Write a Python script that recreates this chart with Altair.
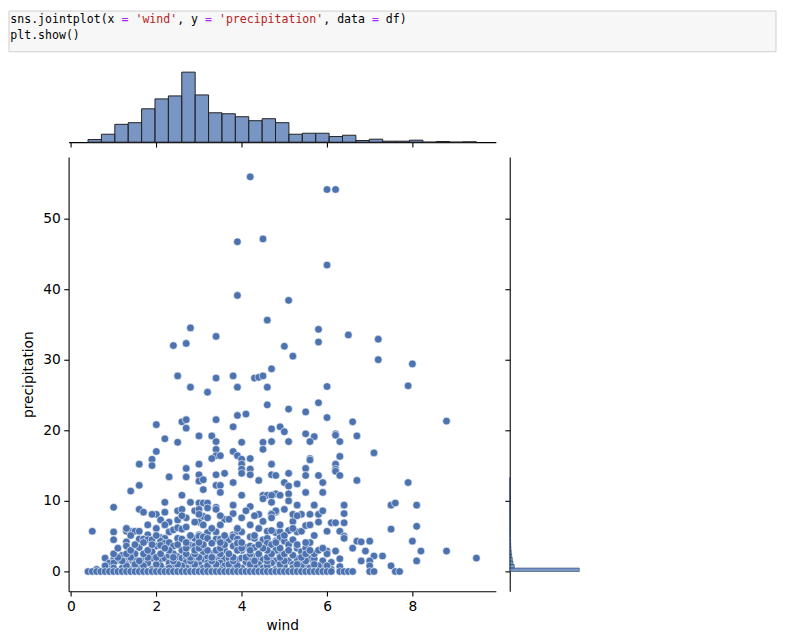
import altair as alt
import pandas as pd

# ---------------- code cell text ----------------
code_text = ["sns.jointplot(x", "=", "'wind'", ", y", "=", "'precipitation'", ", data", "=", "df)", "plt.show()"]
code_col = [0, 16, 18, 24, 28, 30, 45, 52, 54, 0]
code_line = [1, 1, 1, 1, 1, 1, 1, 1, 1, 2]
code_kind = ["code", "op", "str", "code", "op", "str", "code", "op", "code", "code"]

# ---------------- scatter data (wind, precipitation) ----------------
pts_high = [(4.2,55.9),(3.9,46.7),(4.5,47.1),(6.0,54.1),(6.2,54.1),(6.0,43.4),(3.9,39.1),(5.1,38.4),(4.6,35.6),(2.8,34.5),
            (3.4,33.3),(2.7,32.3),(2.4,32.0),(5.8,34.3),(6.5,33.5),(7.2,32.9),(5.0,31.9),(5.8,32.5),(5.2,30.5),(7.2,30.0),
            (8.0,29.4),(4.7,28.7),(2.5,27.7),(3.4,27.4),(3.8,27.7),(4.3,27.4),(4.4,27.5),(4.5,27.7),(2.8,26.1),(3.9,26.1),
            (4.6,26.1),(6.0,26.2),(7.9,26.3),(3.2,25.4),(4.6,23.6),(5.8,23.9),(5.1,23.0),(5.5,22.6),(4.1,22.3),(3.9,22.1),
            (6.0,21.8),(6.6,21.2),(8.8,21.3),(2.0,20.8),(2.6,21.2),(2.7,21.5),(3.4,21.5),(2.7,20.3),(3.8,20.5),(4.7,20.2),
            (4.9,20.5),(5.0,19.8),(5.5,19.5),(5.7,19.1),(6.2,19.5),(6.2,19.3),(6.7,19.2),(2.2,18.8),(3.0,19.2),(3.3,19.2),
            (2.5,18.3),(3.4,18.4),(4.0,18.3),(4.5,18.3),(4.7,18.4),(5.1,18.4),(5.6,18.4),(6.3,18.4),(2.0,17.0),(3.4,17.3),
            (4.5,17.3),(3.8,17.0),(7.1,16.8),(3.9,16.4),(3.4,16.4),(3.5,16.4),(3.3,16.0),(4.0,15.9),(4.2,16.0),(1.9,15.9),
            (5.6,16.0),(6.3,16.3),(5.6,15.8),(1.6,15.2),(1.9,15.0),(3.0,15.2),(4.0,15.2),(4.7,15.2),(6.2,15.2),(2.7,14.6),
            (4.2,14.5),(5.5,14.6),(6.2,14.5),(4.0,14.5),(6.2,14.2)]

pts_mid = [(3.4,13.7),(3.6,13.9),(3.0,13.7),(2.7,13.4),(2.3,13.4),(4.0,13.9),(4.2,13.7),(4.7,13.7),(4.8,13.6),(6.3,13.6),
           (5.5,13.6),(5.1,13.9),(5.8,13.6),(3.0,12.8),(3.1,13.0),(1.6,12.2),(3.4,12.2),(3.5,12.2),(3.8,12.6),(4.4,12.9),
           (6.7,12.9),(7.9,12.6),(5.9,12.6),(5.3,12.4),(5.0,12.6),(5.1,12.1),(3.1,11.6),(3.5,11.2),(1.4,11.4),(5.5,11.2),
           (5.9,11.2),(4.8,11.0),(4.9,10.8),(5.1,11.0),(4.0,10.8),(4.5,10.8),(4.6,10.8),(4.7,10.8),(2.6,10.8),(4.5,10.3),
           (5.1,10.0),(2.2,9.8),(2.8,9.8),(3.0,9.7),(3.1,9.7),(3.2,9.7),(3.8,9.4),(4.2,9.2),(1.0,9.1),(3.4,9.1),
           (4.7,9.8),(5.3,9.4),(5.7,9.4),(6.4,9.4),(7.5,9.4),(7.6,9.7),(8.1,9.4),(1.6,8.8),(1.7,8.4),(2.2,8.4),
           (2.5,8.6),(2.6,8.8),(2.9,8.6),(3.0,8.8),(3.2,9.0),(3.4,8.8),(3.8,8.2),(4.1,8.6),(4.7,8.2),(4.8,8.4),
           (2.0,8.1),(6.4,8.2),(5.4,8.1),(5.6,8.1),(5.8,8.1),(5.9,8.6),(5.0,8.8),(4.8,8.6),(4.7,8.1),(2.1,7.3),
           (2.3,7.0),(2.5,7.3),(2.7,7.6),(3.0,7.0),(3.1,7.8),(3.2,7.6),(3.6,7.4),(3.7,7.4),(4.0,7.6),(4.5,7.1),
           (4.7,7.6),(1.8,6.6),(2.9,7.0),(5.8,7.0),(6.1,6.9),(6.2,6.9),(6.4,6.9),(0.5,5.7),(1.0,5.6),(1.3,5.7),
           (1.4,5.7),(1.5,5.7),(1.6,5.7),(2.3,5.6),(2.4,5.9),(2.5,6.2),(2.6,6.0),(2.7,6.3),(3.0,5.2),(3.2,5.5),
           (3.4,5.6),(3.8,5.2),(3.9,5.7),(4.0,5.6),(4.6,5.7),(4.8,5.5),(1.8,5.2),(6.0,5.7),(6.3,5.7),(7.5,6.0),
           (8.1,6.4),(4.7,5.8),(4.9,5.6),(5.1,5.8),(5.3,5.6),(5.4,5.7),(6.4,5.0),(4.9,6.6),(5.2,7.1),(5.5,6.5),
           (1.9,8.1),(3.0,8.1),(4.4,8.1),(5.2,8.1),(2.6,7.9),(3.5,7.9),(4.3,7.9),(5.3,7.9),(2.2,6.6),(3.1,6.6),
           (3.5,6.6),(4.2,6.6),(5.6,6.6),(1.3,6.1),(2.0,6.1),(3.3,6.1),(3.9,6.1),(4.4,6.1),(5.2,6.1)]

pts_low = [(2.1,4.8),(2.2,4.7),(1.0,4.5),(1.6,4.6),(1.7,4.6),(1.8,4.5),(1.9,4.5),(2.1,4.3),(2.2,4.0),(2.3,4.1),
           (2.5,4.7),(2.6,4.6),(2.8,4.9),(2.9,4.7),(3.0,5.0),(3.1,4.9),(3.2,4.7),(3.4,4.6),(3.5,4.6),(3.6,4.4),
           (3.7,4.5),(3.8,4.9),(3.9,4.6),(4.2,4.9),(4.3,4.7),(4.5,4.5),(4.6,4.7),(4.8,4.3),(1.3,4.2),(1.3,3.6),
           (1.6,3.4),(2.0,3.6),(2.1,3.7),(2.4,3.6),(2.8,3.7),(2.9,3.6),(3.3,4.0),(3.8,3.6),(3.9,4.0),(4.1,3.4),
           (4.2,3.6),(4.3,3.4),(4.6,4.0),(4.7,3.8),(6.4,4.7),(6.7,4.3),(6.8,4.2),(7.0,4.3),(6.6,3.3),(6.9,2.9),
           (6.0,2.9),(6.2,2.9),(8.0,4.3),(8.2,2.9),(8.8,2.9),(9.5,1.9),(8.1,1.5),(7.1,2.2),(7.3,2.2),(6.8,1.5),
           (7.0,1.5),(6.3,1.8),(6.1,1.3),(5.9,1.5),(5.6,1.8),(5.7,1.8),(7.5,0.8),(7.0,0.8),(6.3,0.7),(4.9,4.8),
           (5.0,4.3),(5.1,3.8),(5.2,4.5),(5.3,3.3),(5.4,2.8),(5.5,3.3),(5.6,4.1),(5.7,2.5),(5.8,3.0),(5.0,2.0),
           (5.1,1.5),(5.2,1.0),(5.3,1.8),(5.4,1.3),(4.9,2.5),(4.8,3.0),(5.5,0.8),(5.9,0.5),(5.2,2.3),(0.8,1.9),
           (1.0,1.7),(1.1,1.6),(1.3,1.8),(1.4,1.6),(1.5,1.7),(1.7,1.7),(1.8,1.6),(1.9,1.9),(2.1,1.7),(2.2,1.9),
           (2.3,2.3),(2.5,2.1),(2.6,1.9),(2.7,2.1),(2.9,1.8),(3.0,1.6),(3.1,1.7),(3.2,2.1),(3.4,1.8),(3.5,2.1),
           (3.6,1.8),(3.7,1.9),(3.9,1.6),(4.0,1.9),(4.1,1.5),(4.2,1.8),(4.3,2.1),(4.4,1.9),(4.5,1.7),(4.7,1.8),
           (4.8,1.5),(0.9,1.2),(1.0,1.2),(1.3,1.0),(1.6,1.2),(1.8,1.2),(2.3,1.2),(2.7,1.3),(3.0,1.0),(3.2,1.2),
           (3.5,1.2),(3.8,1.2),(4.1,1.3),(4.4,1.0),(4.7,1.2),(0.6,0.3),(1.2,0.5),(1.5,0.3),(2.0,0.5),(2.4,0.8),
           (2.8,0.5),(3.3,0.3),(3.6,0.8),(4.0,0.5),(4.6,0.3),(5.0,0.5),(2.6,3.0),(3.1,2.8),(3.6,3.0),(4.4,2.5),
           (1.9,2.8),(2.4,2.5),(3.3,2.5),(4.0,3.0),(1.2,2.3),(1.5,2.5)]

pts_dense = [(0.9,0.3),(1.4,0.3),(1.9,0.3),(2.2,0.3),(2.6,0.3),(3.0,0.3),(3.5,0.3),(3.9,0.3),(4.3,0.3),(4.8,0.3),
             (5.3,0.3),(5.7,0.3),(6.1,0.3),(1.0,0.5),(1.6,0.5),(2.3,0.5),(2.7,0.5),(3.1,0.5),(3.4,0.5),(3.8,0.5),
             (4.2,0.5),(4.5,0.5),(4.9,0.5),(5.2,0.5),(5.6,0.5),(0.8,0.8),(1.3,0.8),(1.7,0.8),(2.1,0.8),(2.6,0.8),
             (2.9,0.8),(3.2,0.8),(3.9,0.8),(4.3,0.8),(4.6,0.8),(5.0,0.8),(5.4,0.8),(5.8,0.8),(6.0,0.8),(1.5,1.0),
             (2.0,1.0),(2.5,1.0),(2.9,1.0),(3.4,1.0),(3.7,1.0),(4.2,1.0),(4.9,1.0),(5.3,1.0),(5.7,1.0),(1.2,1.5),
             (1.6,1.5),(2.4,1.5),(2.8,1.5),(3.3,1.5),(3.8,1.5),(4.3,1.5),(4.6,1.5),(5.0,1.5),(5.5,1.5),(1.1,2.0),
             (1.4,2.0),(1.8,2.0),(2.0,2.0),(2.4,2.0),(2.8,2.0),(3.0,2.0),(3.3,2.0),(3.8,2.0),(4.1,2.0),(4.6,2.0),
             (4.9,2.0),(5.4,2.0),(1.0,2.5),(1.3,2.5),(1.7,2.5),(2.1,2.5),(2.7,2.5),(2.9,2.5),(3.5,2.5),(3.7,2.5),
             (4.2,2.5),(4.7,2.5),(5.0,2.5),(5.5,2.5),(6.0,2.5),(1.4,3.0),(1.8,3.0),(2.3,3.0),(2.9,3.0),(3.2,3.0),
             (3.4,3.0),(3.9,3.0),(4.2,3.0),(4.6,3.0),(5.1,3.0),(5.6,3.0),(1.1,3.3),(2.2,3.3),(2.7,3.3),(3.0,3.3),
             (3.5,3.3),(4.0,3.3),(4.5,3.3),(4.9,3.3),(5.9,3.3),(1.5,3.8),(1.9,3.8),(2.5,3.8),(3.1,3.8),(3.6,3.8),
             (4.4,3.8),(5.3,3.8),(1.7,4.1),(2.7,4.1),(3.0,4.1),(3.5,4.1),(4.0,4.1),(4.8,4.1),(5.5,4.1),(1.4,5.1),
             (2.0,5.1),(2.8,5.1),(3.6,5.1),(4.3,5.1),(5.0,5.1),(5.7,5.1)]

wind_zero = [0.4,0.5,0.6,0.7,0.8,0.9,1.0,1.1,1.2,1.3,1.4,1.5,1.6,1.7,1.8,1.9,2.0,2.1,2.2,2.3,
             2.4,2.5,2.6,2.7,2.8,2.9,3.0,3.1,3.2,3.3,3.4,3.5,3.6,3.7,3.8,3.9,4.0,4.1,4.2,4.3,
             4.4,4.5,4.6,4.7,4.8,4.9,5.0,5.1,5.2,5.3,5.4,5.5,5.6,5.7,5.8,5.9,6.0,6.1,6.3,6.4,
             6.5,6.6,7.0,7.1,7.6,7.7]

# ---------------- marginal histograms ----------------
wind_bin_start = 0.4
wind_bin_width = 0.3138
wind_counts = [8,24,54,59,101,131,140,212,143,89,86,77,65,71,59,24,27,27,17,21,5,9,3,3,6,0,2,0,1]

precip_bin_width = 0.4947
precip_counts = [890,58,42,33,25,20,16,13,11,10,8,7,6,6,5,4,4,3,3,2,2,2,1,1,1,1,1]

# ---------------- build tables ----------------
pts = pts_high + pts_mid + pts_low + pts_dense + [(w, 0.0) for w in wind_zero]
df = pd.DataFrame(pts, columns=["wind", "precipitation"])

wdf = pd.DataFrame({
    "start": [wind_bin_start + i * wind_bin_width for i in range(len(wind_counts))],
    "end": [wind_bin_start + (i + 1) * wind_bin_width for i in range(len(wind_counts))],
    "count": wind_counts,
})
pdf = pd.DataFrame({
    "start": [i * precip_bin_width for i in range(len(precip_counts))],
    "end": [(i + 1) * precip_bin_width for i in range(len(precip_counts))],
    "count": precip_counts,
})
cdf = pd.DataFrame({"text": code_text, "col": code_col, "line": code_line, "kind": code_kind})

BLUE = "#4C72B0"
XDOM = [-0.055, 9.955]
YDOM = [-2.795, 58.695]
W, H, M = 430, 437, 74

# ---------------- code cell ----------------
box = alt.Chart(pd.DataFrame({"a": [0]})).mark_rect(
    fill="#f7f7f7", stroke="#cfcfcf", strokeWidth=1
).encode(x=alt.value(-60), x2=alt.value(712), y=alt.value(0), y2=alt.value(41))

code = alt.Chart(cdf).mark_text(
    font="DejaVu Sans Mono", fontSize=11.63, align="left", baseline="middle"
).encode(
    x=alt.X("col:Q", scale=alt.Scale(domain=[0, 57], range=[-58.7, 340.3]), axis=None),
    y=alt.Y("line:Q", scale=alt.Scale(domain=[1, 2], range=[9, 25]), axis=None),
    text="text:N",
    color=alt.Color("kind:N", scale=alt.Scale(domain=["code", "op", "str"],
                                              range=["#000000", "#AA22FF", "#BA2121"]), legend=None),
)
code_panel = alt.layer(box, code).properties(width=W, height=43)

# ---------------- top marginal ----------------
top = alt.Chart(wdf).mark_rect(fill=BLUE, fillOpacity=0.75, stroke="#222222", strokeWidth=1).encode(
    x=alt.X("start:Q", scale=alt.Scale(domain=XDOM, nice=False, zero=False),
            axis=alt.Axis(values=[0, 2, 4, 6, 8], labels=False, title=None)),
    x2="end:Q",
    y=alt.Y("count:Q", scale=alt.Scale(domain=[0, 222.6], nice=False), axis=None),
).properties(width=W, height=M)

# ---------------- main scatter ----------------
main = alt.Chart(df).mark_circle(size=60, color=BLUE, opacity=1, stroke="white", strokeWidth=0.6).encode(
    x=alt.X("wind:Q", scale=alt.Scale(domain=XDOM, nice=False, zero=False),
            axis=alt.Axis(values=[0, 2, 4, 6, 8], title="wind", titlePadding=5)),
    y=alt.Y("precipitation:Q", scale=alt.Scale(domain=YDOM, nice=False, zero=False),
            axis=alt.Axis(values=[0, 10, 20, 30, 40, 50], title="precipitation", titlePadding=7)),
).properties(width=W, height=H)

# ---------------- right marginal ----------------
right = alt.Chart(pdf).mark_rect(fill=BLUE, fillOpacity=0.75, stroke="#2d4a73", strokeWidth=0.6).encode(
    y=alt.Y("start:Q", scale=alt.Scale(domain=YDOM, nice=False, zero=False),
            axis=alt.Axis(values=[0, 10, 20, 30, 40, 50], labels=False, title=None)),
    y2="end:Q",
    x=alt.X("count:Q", scale=alt.Scale(domain=[0, 941], nice=False), axis=None),
).properties(width=M, height=H)

bottom = alt.hconcat(main, right, spacing=14, bounds="flush")

chart = alt.vconcat(code_panel, top, bottom, spacing=15, bounds="flush").properties(
    padding={"left": 0, "top": 0, "right": 0, "bottom": 0}
).configure_view(stroke=None).configure_axis(
    grid=False, domainColor="black", domainWidth=1.1, tickColor="black", tickWidth=1.1, tickSize=4.9,
    labelFont="DejaVu Sans", labelFontSize=13.9, labelColor="black", labelPadding=3.5,
    titleFont="DejaVu Sans", titleFontSize=13.9, titleFontWeight="normal", titleColor="black",
)

chart.save("out.html", embed_options={"renderer": "svg", "actions": False})
